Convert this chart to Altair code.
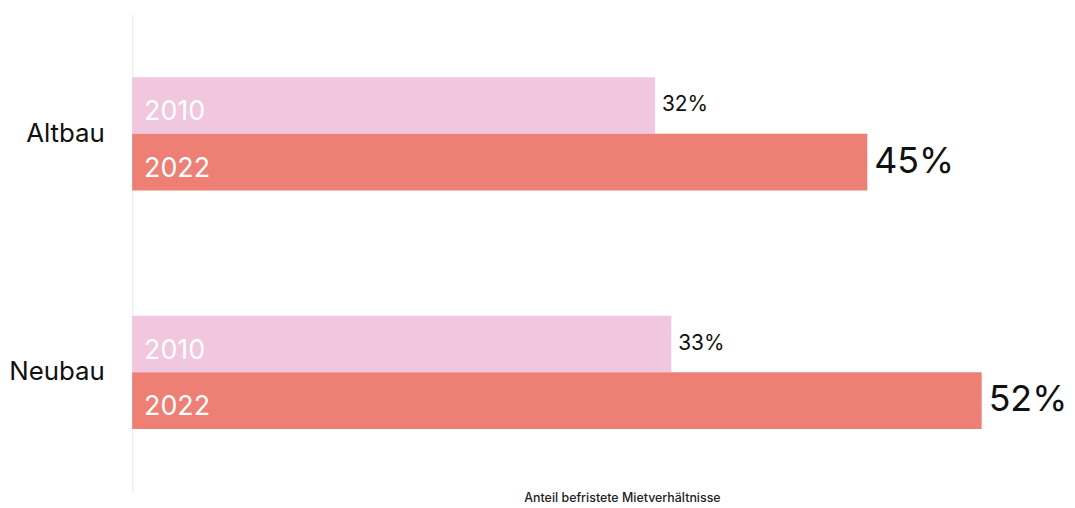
import altair as alt
import pandas as pd

categories = ["Altbau", "Altbau", "Neubau", "Neubau"]
years = ["2010", "2022", "2010", "2022"]
values = [32, 45, 33, 52]
value_labels = ["32%", "45%", "33%", "52%"]

year_domain = ["2010", "2022"]
year_colors = ["#f0c7df", "#ee7f75"]

df = pd.DataFrame({
    "category": categories,
    "year": years,
    "value": values,
    "label": value_labels,
})

FONT = "Inter"

y_enc = alt.Y(
    "category:N",
    sort=["Altbau", "Neubau"],
    scale=alt.Scale(paddingInner=0.525, paddingOuter=0.2625),
    axis=alt.Axis(
        title=None, ticks=False, labelPadding=28, labelFontSize=26,
        labelColor="#111111", labelFont=FONT, domainColor="#e8e8e8",
        domainWidth=1, grid=False,
    ),
)
yoff_enc = alt.YOffset(
    "year:N", sort=year_domain,
    scale=alt.Scale(paddingInner=0, paddingOuter=0),
)
x_enc = alt.X(
    "value:Q",
    scale=alt.Scale(domain=[0, 54], nice=False, zero=True),
    axis=alt.Axis(
        title="Anteil befristete Mietverhältnisse", labels=False, ticks=False,
        domain=False, grid=False, titleFontSize=12.5, titleFontWeight=500,
        titleFont=FONT, titleColor="#222222", titleX=493, titleY=0,
        titleAlign="center", titleBaseline="top",
    ),
)

base = alt.Chart(df)

bars = base.mark_bar(cornerRadius=0).encode(
    x=x_enc,
    y=y_enc,
    yOffset=yoff_enc,
    color=alt.Color("year:N", scale=alt.Scale(domain=year_domain, range=year_colors), legend=None),
)

year_text = base.mark_text(
    align="left", baseline="middle", dx=12, dy=7, color="white",
    fontSize=27, font=FONT,
).encode(
    x=alt.datum(0),
    y=alt.Y("category:N", sort=["Altbau", "Neubau"]),
    yOffset=alt.YOffset("year:N", sort=year_domain),
    text="year:N",
)

value_text = base.mark_text(
    align="left", baseline="middle", dx=7, color="#111111", font=FONT,
).encode(
    x="value:Q",
    y=alt.Y("category:N", sort=["Altbau", "Neubau"]),
    yOffset=alt.YOffset("year:N", sort=year_domain),
    text="label:N",
    size=alt.Size("year:N", scale=alt.Scale(domain=year_domain, range=[21, 36]), legend=None),
)

chart = alt.layer(bars, year_text, value_text).properties(
    width=888,
    height=480,
    autosize="none",
    padding={"left": 125, "top": 5, "right": 53, "bottom": 18},
    background="white",
).configure_view(stroke=None)

chart.save("out.html", embed_options={"renderer": "svg", "actions": False})
